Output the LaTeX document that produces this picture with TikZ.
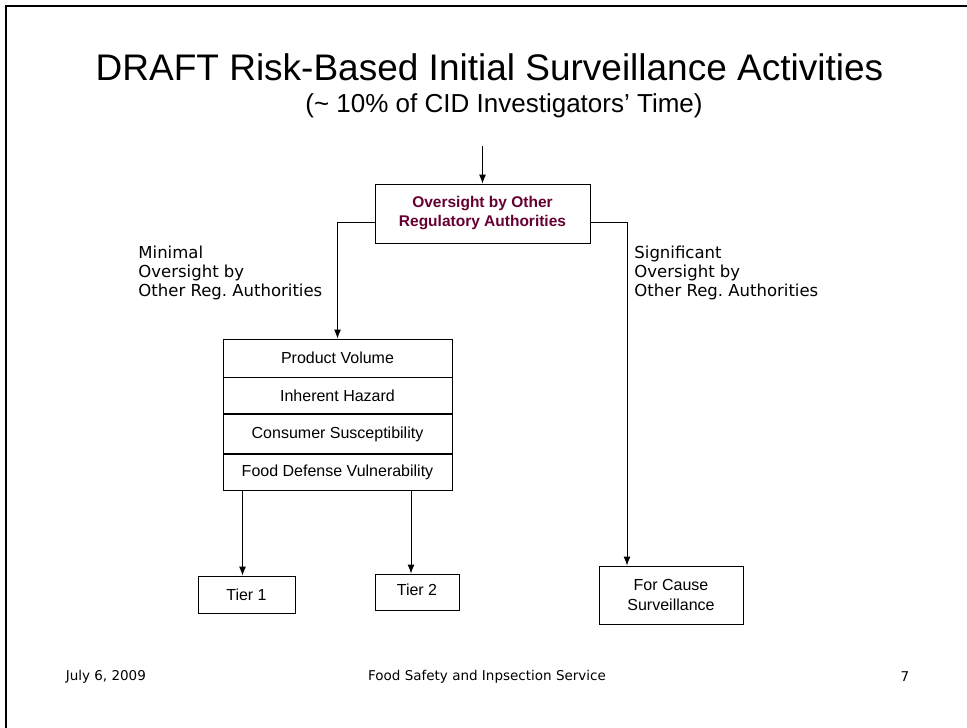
\documentclass[tikz,border=0pt]{standalone}
\usepackage{fontspec}
\setmainfont{Liberation Sans}
\newfontfamily\verdana{DejaVu Sans}
\usetikzlibrary{arrows.meta}
\definecolor{maroon}{RGB}{102,0,51}
\frenchspacing
\tikzset{
	box/.style={draw, rectangle, inner sep=0pt, align=center, font=\fontsize{16}{20}\selectfont},
	arrow/.style={-{Latex[length=9pt,width=7pt]}, line width=0.9pt},
	note/.style={align=left, anchor=north west, inner sep=0pt, font=\verdana\fontsize{16.5}{19}\selectfont},
	footer/.style={font=\verdana\fontsize{13.5}{16}\selectfont}
}
\begin{document}
\begin{tikzpicture}[x=1pt, y=-1pt, line width=0.9pt]
				\useasboundingbox (0,0) rectangle (967,728);
				\draw[line width=2pt] (6,728) -- (6,6) -- (967,6);

				% Title
				\node (title) at (489.5,67) {\fontsize{37}{42}\selectfont DRAFT Risk-Based Initial Surveillance Activities};
				\node (subtitle) at (504,106) {\fontsize{26}{30}\selectfont (\char`\~{} 10\% of CID Investigators’ Time)};

				% Oversight
				\coordinate (start) at (482.5,146);
				\node[box, minimum width=215pt, minimum height=59pt, font=\bfseries\fontsize{15.5}{19}\selectfont, text=maroon] (oversight) at (482.5,213.5) {Oversight by Other\\Regulatory Authorities};
				\draw[arrow] (start) -- (oversight.north);

				% Risk factors
				\node[box, minimum width=229pt, minimum height=38pt] (volume) at (337.5,358) {Product Volume};
				\node[box, minimum width=229pt, minimum height=36pt, anchor=north] (hazard) at (volume.south) {Inherent Hazard};
				\node[box, minimum width=229pt, minimum height=39pt, anchor=north] (consumer) at (hazard.south) {Consumer Susceptibility};
				\node[box, minimum width=229pt, minimum height=36pt, anchor=north] (defense) at (consumer.south) {Food Defense Vulnerability};

				% Outcomes
				\node[box, minimum width=97pt, minimum height=37pt] (tier1) at (246.5,594.5) {Tier 1};
				\node[box, minimum width=84pt, minimum height=36pt, text depth=5pt] (tier2) at (417,592) {Tier 2};
				\node[box, minimum width=144pt, minimum height=58pt] (cause) at (671,595) {For Cause\\Surveillance};

				\draw[arrow] ([yshift=-9pt]oversight.west) -| (volume.north);
				\draw[arrow] ([yshift=-9pt]oversight.east) -| ([xshift=-44pt]cause.north);
				\draw[arrow] ([xshift=-4pt]tier1.north |- defense.south) -- ([xshift=-4pt]tier1.north);
				\draw[arrow] ([xshift=-6pt]tier2.north |- defense.south) -- ([xshift=-6pt]tier2.north);

				% Branch labels
				\node[note] (minimal) at (138,246) {Minimal\\Oversight by\\Other Reg. Authorities};
				\node[note] (significant) at (634,246) {Significant\\Oversight by\\Other Reg. Authorities};

				% Footer
				\node[footer, anchor=west] (date) at (62,677) {July 6, 2009};
				\node[footer] (agency) at (487,677) {Food Safety and Inpsection Service};
				\node[footer] (page) at (905,677) {7};
			\end{tikzpicture}
\end{document}
